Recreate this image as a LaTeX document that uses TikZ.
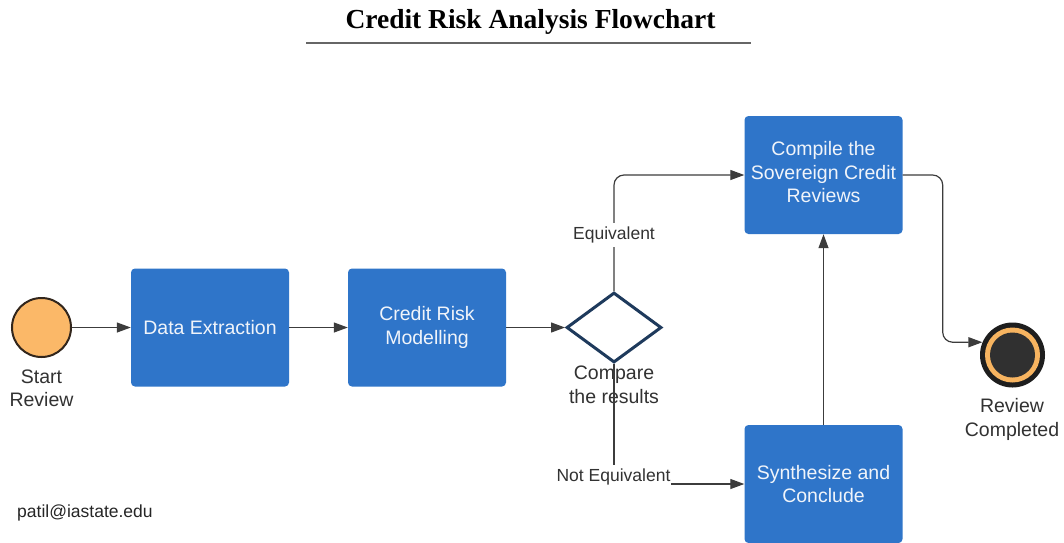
\documentclass[tikz,border=0pt]{standalone}
\usepackage{fontspec}
\setmainfont{Liberation Sans}
\newfontfamily\titlefont{Liberation Serif}
\usetikzlibrary{shapes.geometric,arrows.meta}
\definecolor{boxblue}{RGB}{47,117,201}
\definecolor{boxtext}{RGB}{240,244,250}
\definecolor{linegray}{RGB}{60,60,60}
\definecolor{startorange}{RGB}{251,184,104}
\definecolor{startborder}{RGB}{50,38,28}
\definecolor{navy}{RGB}{30,58,92}
\definecolor{ringblack}{RGB}{30,30,30}
\definecolor{ringorange}{RGB}{247,180,96}
\definecolor{innerdark}{RGB}{48,48,48}
\definecolor{labeltext}{RGB}{50,50,50}
\tikzset{
  procbox/.style={rectangle, rounded corners=4pt, fill=boxblue, draw=none,
    minimum width=158pt, minimum height=118pt, inner sep=2pt, align=center,
    text=boxtext, font=\fontsize{19.5}{23.5}\selectfont},
  conn/.style={draw=linegray, line width=1.2pt, -{Triangle[length=14pt,width=10pt]}},
  nodetext/.style={align=center, inner sep=0pt, text=labeltext, font=\fontsize{19.5}{23.5}\selectfont},
  edgelabel/.style={fill=white, inner xsep=1pt, inner ysep=4pt, text height=12.5pt, text depth=3.5pt,
    text=labeltext, font=\fontsize{17.5}{21}\selectfont},
}
\begin{document}
\begin{tikzpicture}[x=1pt,y=-1pt]
\useasboundingbox (0,0) rectangle (1064,542);
\fill[white] (0,0) rectangle (1064,542);

% title
\node[anchor=base, inner sep=0pt, font=\titlefont\bfseries\fontsize{27.5}{32}\selectfont] (title) at (530.5,28.5) {Credit Risk Analysis Flowchart};
\draw[draw=black!60, line width=1.5pt] (306,43) -- (751,43);

% nodes
\node[circle, fill=startorange, draw=startborder, line width=2pt, minimum size=59pt, inner sep=0pt] (start) at (41.5,327.5) {};
\node[nodetext] (starttxt) at (41.5,388.5) {Start\\Review};

\node[procbox] (data) at (210,327.5) {Data Extraction};
\node[procbox] (model) at (427,327.5) {Credit Risk\\Modelling};

\node[diamond, draw=navy, line width=3pt, fill=white, aspect=1.34, minimum width=95pt, minimum height=70pt, inner sep=0pt] (dia) at (614,327.5) {};
\node[nodetext] (diatxt) at (614,385) {Compare\\the results};

\node[procbox, text depth=6pt] (comp) at (823.5,175) {Compile the\\Sovereign Credit\\Reviews};
\node[procbox] (synth) at (823.5,484) {Synthesize and\\Conclude};

\node[circle, fill=ringblack, minimum size=65pt, inner sep=0pt] (endc) at (1012.5,355) {};
\node[circle, fill=ringorange, minimum size=55pt, inner sep=0pt] (endring) at (endc) {};
\node[circle, fill=innerdark, minimum size=45pt, inner sep=0pt] (endinner) at (endc) {};
\node[nodetext] (endtxt) at (1012,419.5) {Review\\Completed};

% connectors
\draw[conn] (start) -- (data);
\draw[conn] (data) -- (model);
\draw[conn] (model) -- (dia);
\draw[conn, rounded corners=10pt] (dia.north) |- (comp.west);
\draw[conn] (dia.south) |- (synth.west);
\draw[conn] (synth) -- (comp);
\draw[conn, rounded corners=10pt] (comp.east) -- ++(40,0) |- (endc.157);

% edge labels
\node[edgelabel] (eq) at (614,235) {Equivalent};
\node[edgelabel] (neq) at (613.5,477) {Not Equivalent};

\node[anchor=base west, inner sep=0pt, text=black!85, font=\fontsize{17.5}{21}\selectfont] (email) at (17,517) {patil@iastate.edu};
\end{tikzpicture}
\end{document}
